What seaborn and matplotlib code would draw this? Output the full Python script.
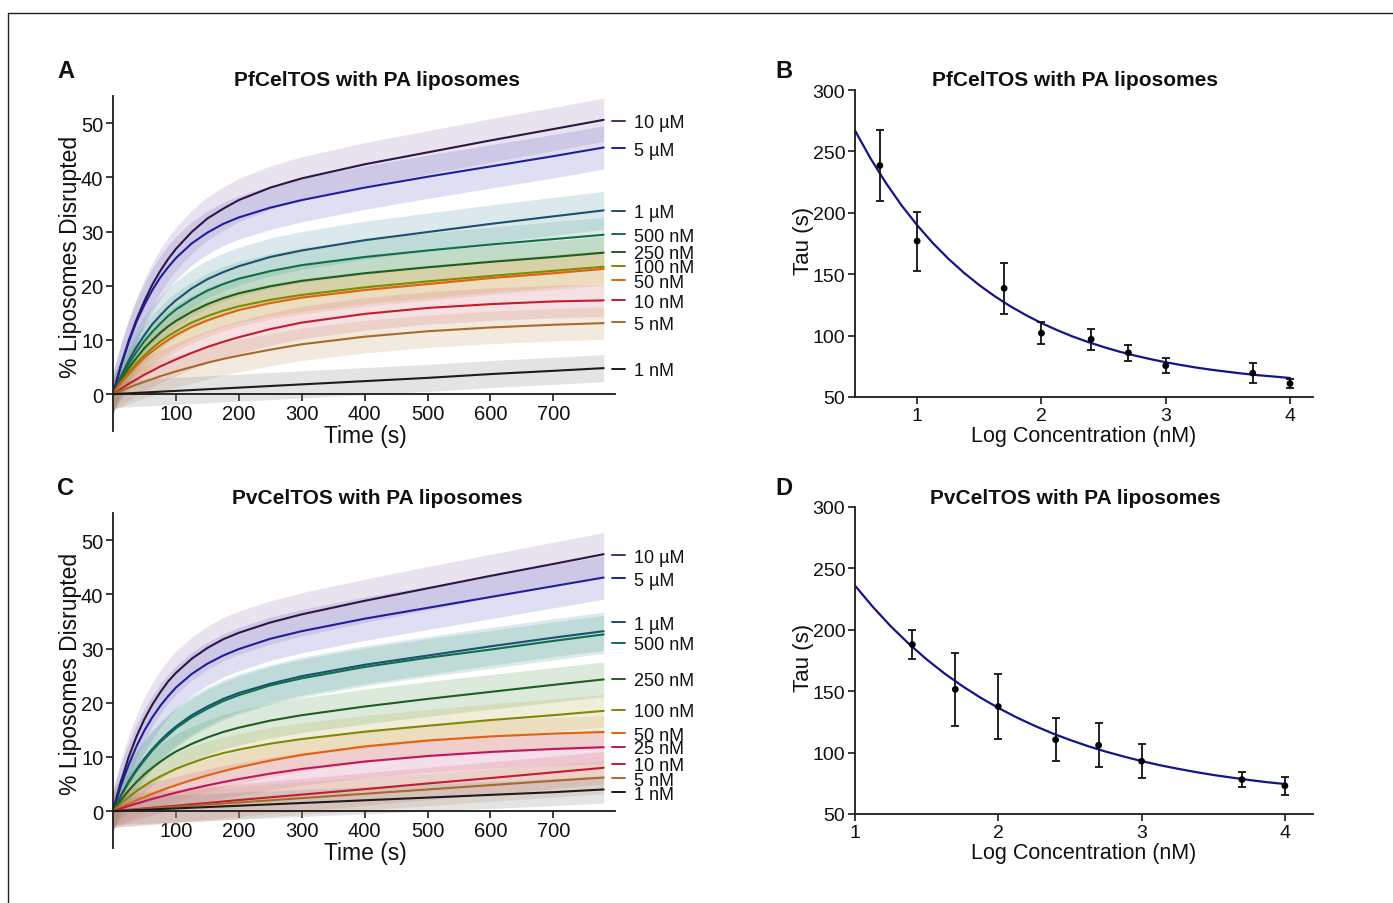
import numpy as np
import pandas as pd
import matplotlib
matplotlib.use("Agg")
import matplotlib.pyplot as plt
import matplotlib.transforms as mtransforms
from matplotlib.lines import Line2D
import seaborn as sns

# ── data ─────────────────────────────────────────────────────────
# fitted kinetic curves, % liposomes disrupted vs time (s)
t_fit = [0, 12.5, 25, 37.5, 50, 62.5, 75, 87.5, 100, 125, 150, 175, 200, 250, 300,
         400, 500, 600, 700, 780]

pf_conc = ["10 µM", "5 µM", "1 µM", "500 nM", "250 nM", "100 nM", "50 nM", "10 nM", "5 nM", "1 nM"]
pf_curves = [
    [0, 5.3, 9.9, 13.8, 17.2, 20.2, 22.7, 24.9, 26.8, 29.9, 32.4, 34.2, 35.8, 38.1, 39.8, 42.4, 44.6, 46.8, 48.9, 50.6],
    [0, 5.2, 9.6, 13.4, 16.5, 19.2, 21.5, 23.4, 25.1, 27.8, 29.8, 31.4, 32.6, 34.4, 35.8, 38.1, 40.1, 42.0, 43.9, 45.5],
    [0, 3.3, 6.2, 8.7, 10.9, 12.9, 14.5, 16.0, 17.3, 19.5, 21.2, 22.5, 23.6, 25.3, 26.5, 28.4, 29.9, 31.4, 32.8, 33.9],
    [0, 3.0, 5.5, 7.8, 9.8, 11.5, 13.0, 14.4, 15.6, 17.5, 19.1, 20.3, 21.3, 22.7, 23.8, 25.3, 26.5, 27.6, 28.6, 29.4],
    [0, 2.5, 4.8, 6.7, 8.5, 9.95, 11.3, 12.5, 13.5, 15.2, 16.6, 17.7, 18.6, 19.9, 20.9, 22.3, 23.4, 24.4, 25.3, 26.1],
    [0, 2.2, 4.1, 5.75, 7.2, 8.5, 9.7, 10.7, 11.6, 13.2, 14.4, 15.4, 16.2, 17.4, 18.3, 19.7, 20.8, 21.8, 22.75, 23.5],
    [0, 2.0, 3.7, 5.3, 6.7, 7.9, 9.0, 10.0, 10.9, 12.4, 13.6, 14.6, 15.5, 16.8, 17.8, 19.2, 20.3, 21.4, 22.3, 23.1],
    [0, 0.97, 1.9, 2.74, 3.6, 4.33, 5.1, 5.75, 6.4, 7.6, 8.7, 9.65, 10.5, 12.0, 13.2, 14.8, 15.9, 16.6, 17.1, 17.3],
    [0, 0.61, 1.2, 1.75, 2.3, 2.79, 3.3, 3.75, 4.2, 5.0, 5.8, 6.49, 7.1, 8.2, 9.2, 10.6, 11.6, 12.3, 12.8, 13.1],
    [0, 0.08, 0.15, 0.23, 0.3, 0.38, 0.45, 0.53, 0.6, 0.75, 0.9, 1.05, 1.2, 1.5, 1.8, 2.4, 3.0, 3.7, 4.3, 4.8],
]
# half-width of the noisy raw traces around each fit
pf_noise = [4.0, 4.0, 3.5, 3.2, 3.0, 3.0, 3.0, 3.0, 3.0, 2.5]

pv_conc = ["10 µM", "5 µM", "1 µM", "500 nM", "250 nM", "100 nM", "50 nM", "25 nM", "10 nM", "5 nM", "1 nM"]
pv_curves = [
    [0, 5.4, 10.0, 13.8, 17.0, 19.65, 21.9, 23.9, 25.5, 28.1, 30.1, 31.7, 32.9, 34.8, 36.3, 38.8, 41.1, 43.4, 45.6, 47.4],
    [0, 4.7, 8.6, 12.0, 14.9, 17.3, 19.4, 21.2, 22.8, 25.3, 27.2, 28.7, 29.9, 31.8, 33.2, 35.5, 37.5, 39.5, 41.5, 43.1],
    [0, 2.9, 5.5, 7.7, 9.7, 11.45, 13.0, 14.4, 15.6, 17.7, 19.3, 20.7, 21.8, 23.5, 24.9, 27.0, 28.7, 30.4, 32.0, 33.2],
    [0, 2.8, 5.3, 7.5, 9.4, 11.2, 12.7, 14.0, 15.3, 17.3, 18.9, 20.3, 21.4, 23.2, 24.5, 26.6, 28.3, 29.8, 31.4, 32.6],
    [0, 2.0, 3.8, 5.4, 6.8, 8.0, 9.1, 10.1, 11.0, 12.4, 13.6, 14.6, 15.4, 16.7, 17.7, 19.3, 20.7, 22.0, 23.3, 24.3],
    [0, 1.4, 2.6, 3.7, 4.7, 5.6, 6.4, 7.1, 7.8, 8.9, 9.9, 10.7, 11.35, 12.45, 13.3, 14.65, 15.75, 16.8, 17.7, 18.5],
    [0, 0.7, 1.37, 2.0, 2.61, 3.2, 3.75, 4.28, 4.78, 5.73, 6.59, 7.37, 8.09, 9.33, 10.37, 11.94, 13.03, 13.78, 14.3, 14.6],
    [0, 0.48, 0.95, 1.4, 1.83, 2.25, 2.65, 3.04, 3.41, 4.11, 4.76, 5.36, 5.92, 6.92, 7.78, 9.15, 10.17, 10.92, 11.47, 11.8],
    [0, 0.13, 0.25, 0.38, 0.5, 0.63, 0.75, 0.88, 1.0, 1.27, 1.5, 1.78, 2.05, 2.55, 3.05, 4.05, 5.1, 6.1, 7.15, 8.0],
    [0, 0.1, 0.2, 0.3, 0.4, 0.5, 0.6, 0.7, 0.8, 1.0, 1.2, 1.4, 1.6, 2.0, 2.4, 3.2, 4.0, 4.8, 5.6, 6.2],
    [0, 0.06, 0.13, 0.19, 0.25, 0.31, 0.38, 0.44, 0.5, 0.63, 0.75, 0.88, 1.0, 1.25, 1.5, 2.0, 2.5, 3.0, 3.5, 4.0],
]
pv_noise = [4.0, 4.0, 3.5, 3.5, 3.2, 3.0, 3.0, 3.0, 3.0, 3.0, 2.5]

# tau vs log concentration
pf_logc = [0.7, 1.0, 1.7, 2.0, 2.4, 2.7, 3.0, 3.7, 4.0]
pf_tau = [238.5, 177, 138.5, 102, 97, 86, 75.5, 69.5, 61]
pf_err = [29, 24, 21, 8.7, 8.5, 6.5, 6, 8, 3.4]
pf_fit_x = [0.5, 0.625, 0.75, 0.875, 1.0, 1.125, 1.25, 1.375, 1.5, 1.625, 1.75, 1.875, 2.0,
            2.125, 2.25, 2.375, 2.5, 2.625, 2.75, 2.875, 3.0, 3.125, 3.25, 3.375, 3.5,
            3.625, 3.75, 3.875, 4.0]
pf_fit_y = [267, 244.3, 224.1, 206.0, 189.9, 175.5, 162.7, 151.3, 141.1, 132.0, 123.9, 116.7,
            110.2, 104.5, 99.3, 94.8, 90.7, 87.0, 83.8, 80.9, 78.3, 76.0, 73.9, 72.1, 70.5,
            69.0, 67.7, 66.6, 65.5]

pv_logc = [1.4, 1.7, 2.0, 2.4, 2.7, 3.0, 3.7, 4.0]
pv_tau = [188, 151.5, 137.5, 110.5, 106, 93, 78, 73]
pv_err = [11.5, 30, 26.5, 17.5, 18, 14, 6.2, 7.2]
pv_fit_x = [1.0, 1.125, 1.25, 1.375, 1.5, 1.625, 1.75, 1.875, 2.0, 2.125, 2.25, 2.375, 2.5,
            2.625, 2.75, 2.875, 3.0, 3.125, 3.25, 3.375, 3.5, 3.625, 3.75, 3.875, 4.0]
pv_fit_y = [236, 218.6, 202.8, 188.7, 175.9, 164.4, 154.1, 144.8, 136.4, 128.8, 122.0, 115.8,
            110.3, 105.3, 100.8, 96.8, 93.1, 89.8, 86.9, 84.2, 81.8, 79.7, 77.7, 75.9, 74.4]

# ── styling ──────────────────────────────────────────────────────
curve_col = {
    "10 µM": "#2e1642", "5 µM": "#1e1e9e", "1 µM": "#1c4f72", "500 nM": "#0f6e4c",
    "250 nM": "#1e5e22", "100 nM": "#7c8a06", "50 nM": "#e2620c", "25 nM": "#c2155c",
    "10 nM": "#c41c2c", "5 nM": "#a86a28", "1 nM": "#1c1c1c",
}
dash_col = dict(curve_col, **{"10 µM": "#4e2f6e"})
noise_col = {
    "10 µM": "#9b7cba", "5 µM": "#6f6fcc", "1 µM": "#5f9eae", "500 nM": "#5eaa8c",
    "250 nM": "#62a062", "100 nM": "#bcb44e", "50 nM": "#e2a462", "25 nM": "#d06a9c",
    "10 nM": "#d87282", "5 nM": "#c9a070", "1 nM": "#858585",
}
pf_label_y = [50.4, 45.4, 33.8, 29.5, 26.3, 23.7, 21.0, 17.3, 13.3, 4.7]
pv_label_y = [47.2, 43.0, 34.8, 31.1, 24.4, 18.7, 14.4, 11.9, 8.7, 6.1, 3.5]

sns.set_theme(style="ticks")
plt.rcParams["font.family"] = ["Liberation Sans", "DejaVu Sans"]
plt.rcParams["axes.linewidth"] = 1.3
plt.rcParams["axes.edgecolor"] = "#1a1a1a"

W, H = 1393, 904
fig = plt.figure(figsize=(W / 100, H / 100), dpi=100)


def px_axes(left, top, right, bottom):
    return fig.add_axes([left / W, 1 - bottom / H, (right - left) / W, (bottom - top) / H])


def style_ticks(ax, size):
    ax.tick_params(axis="both", labelsize=size, length=5, width=1.2, pad=2,
                   colors="#1a1a1a", labelcolor="#111111")


def kinetics_panel(ax, conc, curves, noise, label_y):
    t = np.array(t_fit, dtype=float)
    rows = []
    for name, ys in zip(conc, curves):
        rows += [{"t": a, "pct": b, "conc": name} for a, b in zip(t_fit, ys)]
    df = pd.DataFrame(rows)

    for name, ys, w in zip(conc, curves, noise):
        ys = np.array(ys, dtype=float)
        ax.fill_between(t, ys - w, ys + w, color=noise_col[name], alpha=0.22, lw=0)

    sns.lineplot(data=df, x="t", y="pct", hue="conc", palette=curve_col, estimator=None,
                 legend=False, linewidth=1.5, ax=ax)

    ax.set_xlim(0, 798)
    ax.set_ylim(-6.8, 55)
    ax.set_xticks(range(100, 800, 100))
    ax.set_yticks(range(0, 51, 10))
    ax.set_xlabel("")
    ax.set_ylabel("")
    sns.despine(ax=ax)
    ax.spines["bottom"].set_position(("data", 0))
    style_ticks(ax, 14.5)

    trans = mtransforms.blended_transform_factory(ax.transAxes, ax.transData)
    for name, yl in zip(conc, label_y):
        ax.plot([0.995, 1.019], [yl, yl], color=dash_col[name], lw=1.4,
                transform=trans, clip_on=False)
        ax.text(1.038, yl, name, transform=trans, fontsize=13, color="#111111",
                ha="left", va="center_baseline", clip_on=False)


def tau_panel(ax, logc, tau, err, fx, fy, xlim):
    fit = pd.DataFrame({"x": fx, "y": fy})
    sns.lineplot(data=fit, x="x", y="y", color="#14148a", linewidth=1.6, ax=ax)
    ax.errorbar(logc, tau, yerr=err, fmt="none", ecolor="#111111", elinewidth=1.3,
                capsize=3, capthick=1.3, zorder=3)
    pts = pd.DataFrame({"x": logc, "y": tau})
    sns.scatterplot(data=pts, x="x", y="y", color="#000000", s=24, edgecolor="none",
                    zorder=4, ax=ax)
    ax.set_xlim(*xlim)
    ax.set_ylim(50, 300)
    ax.set_xticks([1, 2, 3, 4])
    ax.set_yticks(range(50, 301, 50))
    ax.set_xlabel("")
    ax.set_ylabel("")
    sns.despine(ax=ax)
    style_ticks(ax, 14)


# ── panels ───────────────────────────────────────────────────────
axA = px_axes(113, 97, 615, 432)
kinetics_panel(axA, pf_conc, pf_curves, pf_noise, pf_label_y)

axC = px_axes(113, 514, 615, 849)
kinetics_panel(axC, pv_conc, pv_curves, pv_noise, pv_label_y)

axB = px_axes(855, 91, 1313, 398)
tau_panel(axB, pf_logc, pf_tau, pf_err, pf_fit_x, pf_fit_y, (0.5, 4.185))

axD = px_axes(855, 508, 1313, 815)
tau_panel(axD, pv_logc, pv_tau, pv_err, pv_fit_x, pv_fit_y, (1.0, 4.196))


def ftext(x, y, s, **kw):
    fig.text(x / W, 1 - y / H, s, ha="center", va="center", color="#111111", **kw)


# titles, panel letters, axis labels
ftext(377, 81, "PfCelTOS with PA liposomes", fontsize=15, fontweight="bold")
ftext(1075, 81, "PfCelTOS with PA liposomes", fontsize=15, fontweight="bold")
ftext(377, 499, "PvCelTOS with PA liposomes", fontsize=15, fontweight="bold")
ftext(1075, 499, "PvCelTOS with PA liposomes", fontsize=15, fontweight="bold")
for letter, (x, y) in zip("ABCD", [(66, 72), (784, 72), (66, 489), (784, 489)]):
    ftext(x, y, letter, fontsize=17, fontweight="bold")

ftext(365, 437, "Time (s)", fontsize=16.5)
ftext(365, 854, "Time (s)", fontsize=16.5)
ftext(70, 257, "% Liposomes Disrupted", fontsize=16.5, rotation=90)
ftext(70, 674, "% Liposomes Disrupted", fontsize=16.5, rotation=90)
ftext(1084, 437, "Log Concentration (nM)", fontsize=15.5)
ftext(1084, 854, "Log Concentration (nM)", fontsize=15.5)
ftext(803, 241, "Tau (s)", fontsize=16, rotation=90)
ftext(803, 658, "Tau (s)", fontsize=16, rotation=90)

# thin frame at top and left of the figure
fig.add_artist(Line2D([8 / W, 1], [1 - 14 / H, 1 - 14 / H], color="#222222", lw=1.0))
fig.add_artist(Line2D([8 / W, 8 / W], [0, 1 - 14 / H], color="#222222", lw=1.0))

fig.savefig("out.png", dpi=100)
